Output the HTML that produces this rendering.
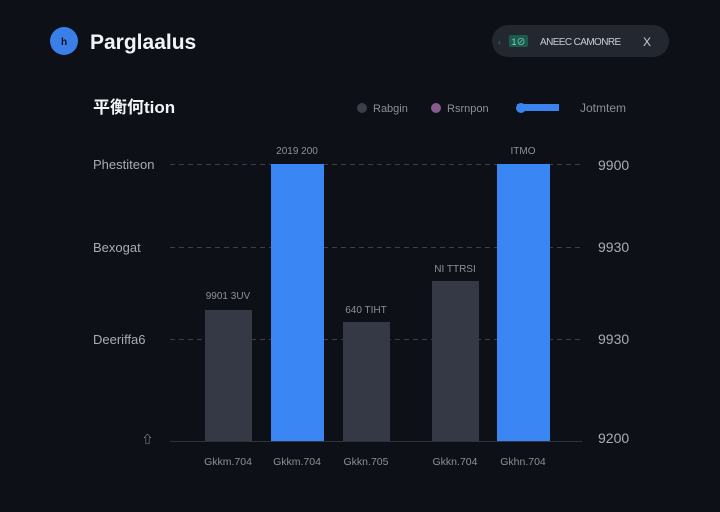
<!DOCTYPE html>
<html><head><meta charset="utf-8"><style>
html,body{margin:0;padding:0;background:#0d1017;}
body{width:720px;height:512px;overflow:hidden;position:relative;font-family:"Liberation Sans","Noto Sans CJK SC",sans-serif;}
svg{position:absolute;left:0;top:0}
</style></head><body>
<svg width="720" height="512" viewBox="0 0 720 512" xmlns="http://www.w3.org/2000/svg" font-family="Liberation Sans, Noto Sans CJK SC, sans-serif">
<rect width="720" height="512" fill="#0d1017"/>
<!-- header -->
<circle cx="64" cy="41" r="14" fill="#3a7fe8"/>
<text x="64" y="45" font-size="10" fill="#0d1017" text-anchor="middle" font-weight="bold">h</text>
<text x="90" y="49" font-size="21" font-weight="bold" fill="#f2f4f7">Parglaalus</text>
<rect x="492" y="25" width="177" height="32" rx="16" fill="#23272f"/>
<text x="498" y="45" font-size="9" fill="#5a606b">‹</text>
<rect x="509" y="35" width="19" height="12" rx="2" fill="#1c5a4e"/>
<text x="518.5" y="45" font-size="9" fill="#7fd6bf" text-anchor="middle">1⊘</text>
<text x="540" y="45" font-size="10" fill="#c8ccd3" letter-spacing="-0.6">ANEEC CAMONRE</text>
<text x="643" y="46" font-size="12" fill="#c8ccd3">X</text>
<!-- subtitle -->
<text x="93" y="113" font-size="17" font-weight="bold" fill="#f2f4f7">平衡何tion</text>
<!-- legend -->
<circle cx="362" cy="108" r="5" fill="#3a3f49"/>
<text x="373" y="112" font-size="11" fill="#8a909b">Rabgin</text>
<circle cx="436" cy="108" r="5" fill="#8a5a8c"/>
<text x="447" y="112" font-size="11" fill="#8a909b">Rsrnpon</text>
<rect x="517" y="104" width="42" height="7" fill="#3a84f0"/>
<circle cx="521" cy="108" r="5" fill="#3a84f0"/>
<text x="580" y="112" font-size="12" fill="#8a909b">Jotmtem</text>
<!-- gridlines -->
<g stroke="#3a3f48" stroke-width="1" stroke-dasharray="5,4">
<line x1="170" y1="164.5" x2="582" y2="164.5"/>
<line x1="170" y1="247.5" x2="582" y2="247.5"/>
<line x1="170" y1="339.5" x2="582" y2="339.5"/>
</g>
<line x1="170" y1="441.5" x2="582" y2="441.5" stroke="#2e333c" stroke-width="1"/>
<!-- left labels -->
<g font-size="13" fill="#a7acb5">
<text x="93" y="169">Phestiteon</text>
<text x="93" y="252">Bexogat</text>
<text x="93" y="344">Deeriffa6</text>
<text x="142" y="443" font-size="11">⇧</text>
</g>
<!-- right labels -->
<g font-size="14" fill="#a7acb5">
<text x="598" y="170">9900</text>
<text x="598" y="252">9930</text>
<text x="598" y="344">9930</text>
<text x="598" y="443">9200</text>
</g>
<!-- bars -->
<rect x="205" y="310" width="47" height="131" fill="#343945"/>
<rect x="271" y="164" width="53" height="277" fill="#3a86f4"/>
<rect x="343" y="322" width="47" height="119" fill="#343945"/>
<rect x="432" y="281" width="47" height="160" fill="#343945"/>
<rect x="497" y="164" width="53" height="277" fill="#3a86f4"/>
<!-- bar value labels -->
<g font-size="10" fill="#8a909b" text-anchor="middle">
<text x="228" y="299">9901 3UV</text>
<text x="297" y="154">2019 200</text>
<text x="366" y="313">640 TIHT</text>
<text x="455" y="272">NI TTRSI</text>
<text x="523" y="154">ITMO</text>
</g>
<!-- x labels -->
<g font-size="10.5" fill="#8a909b" text-anchor="middle">
<text x="228" y="465">Gkkm.704</text>
<text x="297" y="465">Gkkm.704</text>
<text x="366" y="465">Gkkn.705</text>
<text x="455" y="465">Gkkn.704</text>
<text x="523" y="465">Gkhn.704</text>
</g>
</svg>
</body></html>
